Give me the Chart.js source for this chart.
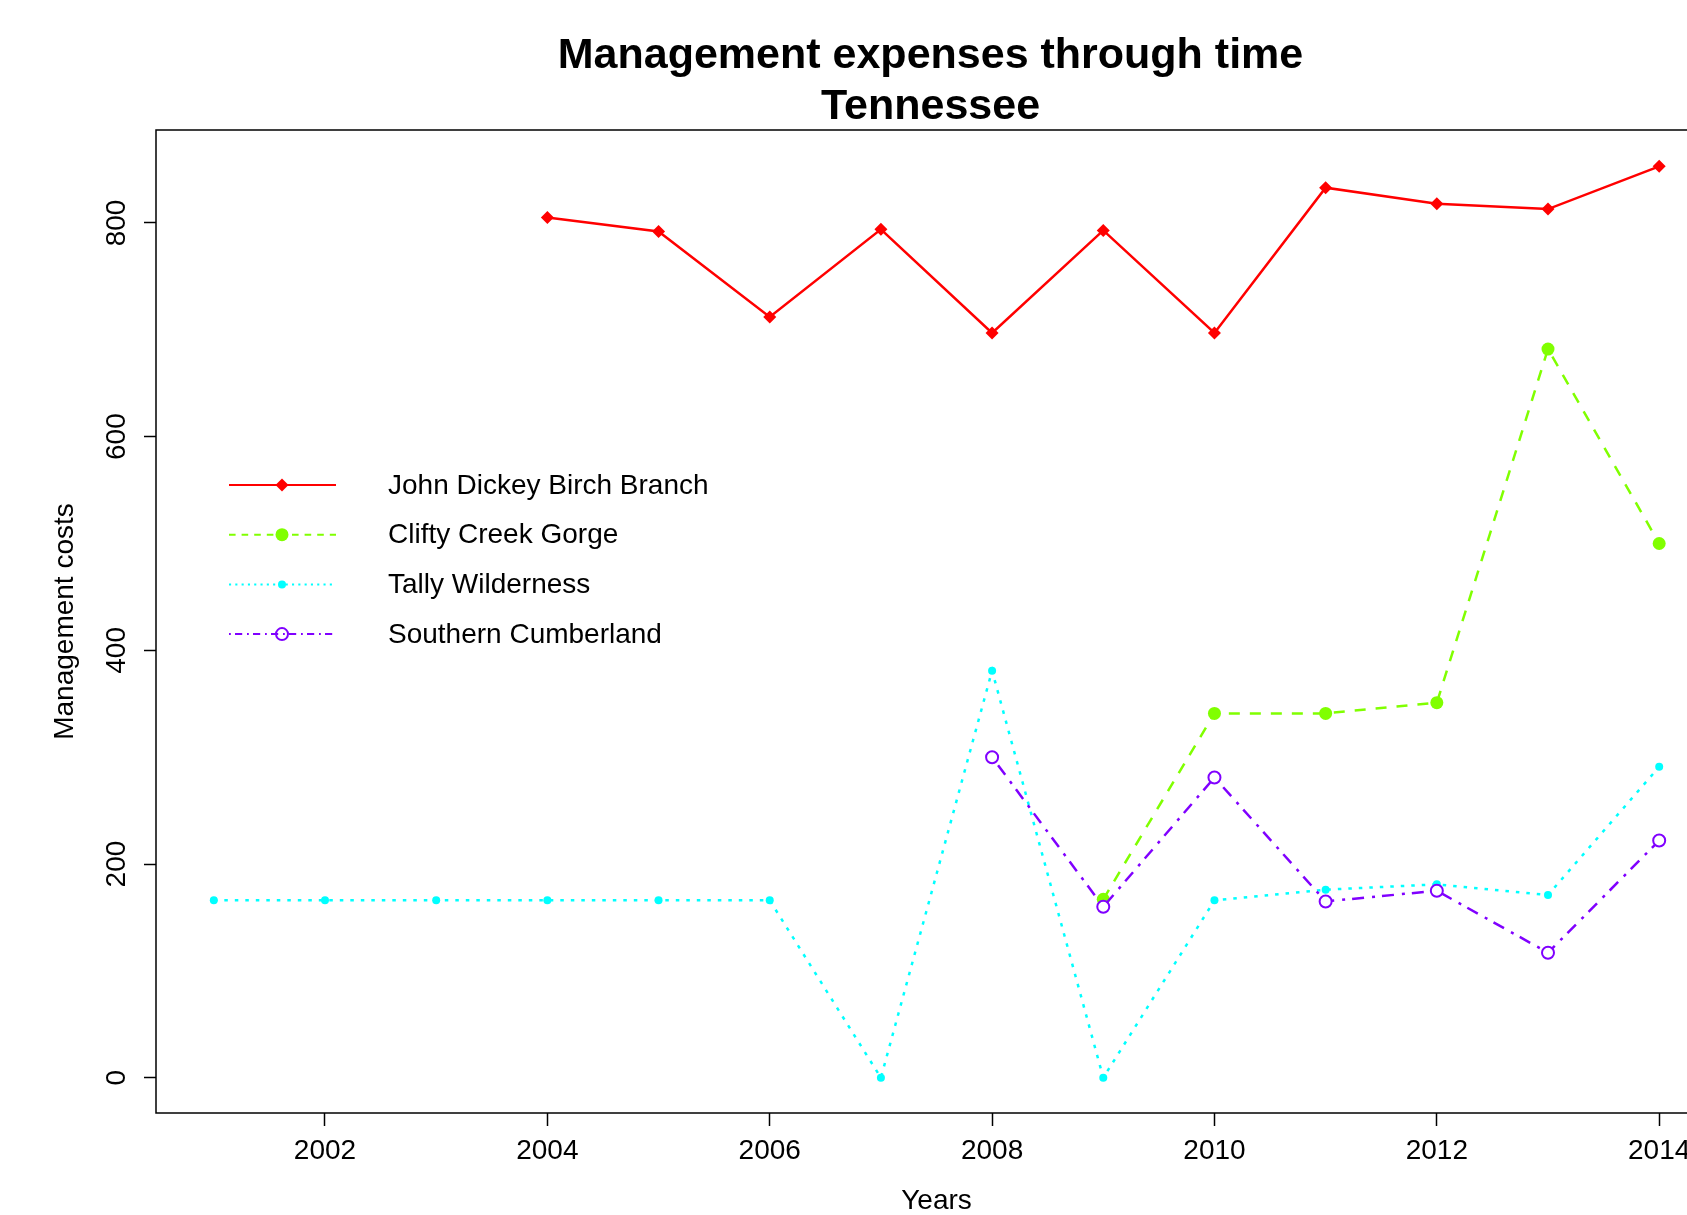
<!DOCTYPE html>
<html>
<head>
<meta charset="utf-8">
<script src="https://cdn.jsdelivr.net/npm/chart.js@4"></script>
<style>
  html, body { margin: 0; padding: 0; background: #fff; overflow: hidden; }
  #wrap { width: 1687px; height: 1215px; overflow: hidden; }
</style>
</head>
<body>
<div id="wrap"><canvas id="costChart" width="1872" height="1215"></canvas></div>
<script>
// data
const years = [2001, 2002, 2003, 2004, 2005, 2006, 2007, 2008, 2009, 2010, 2011, 2012, 2013, 2014];
const johnDickey = [null, null, null, 805, 792, 712, 794, 697, 793, 697, 833, 818, 813, 853];
const cliftyCreek = [null, null, null, null, null, null, null, null, 167, 341, 341, 351, 682, 500];
const tallyWilderness = [166, 166, 166, 166, 166, 166, 0, 381, 0, 166, 176, 181, 171, 291];
const southernCumberland = [null, null, null, null, null, null, null, 300, 160, 281, 165, 175, 117, 222];

const seriesNames = ['John Dickey Birch Branch', 'Clifty Creek Gorge', 'Tally Wilderness', 'Southern Cumberland'];
const titleLines = ['Management expenses through time', 'Tennessee'];
const xTickYears = [2002, 2004, 2006, 2008, 2010, 2012, 2014];
const yTickValues = [0, 200, 400, 600, 800];

const FONT = '"Liberation Sans", Arial, sans-serif';

function toPoints(arr) {
    return years.map((x, i) => ({ x, y: arr[i] })).filter(p => p.y !== null);
}

const datasets = [
    {
        label: seriesNames[0], data: toPoints(johnDickey), order: 4,
        borderColor: '#FF0000', backgroundColor: '#FF0000', borderWidth: 2.5,
        pointStyle: 'rectRot', pointRadius: 6.5, pointBackgroundColor: '#FF0000', pointBorderWidth: 0
    },
    {
        label: seriesNames[1], data: toPoints(cliftyCreek), order: 3,
        borderColor: '#80FF00', backgroundColor: '#80FF00', borderWidth: 2.5, borderDash: [11, 10],
        pointStyle: 'circle', pointRadius: 6.5, pointBackgroundColor: '#80FF00', pointBorderWidth: 0
    },
    {
        label: seriesNames[2], data: toPoints(tallyWilderness), order: 2,
        borderColor: '#00FFFF', backgroundColor: '#00FFFF', borderWidth: 2.5, borderDash: [3.5, 7],
        pointStyle: 'circle', pointRadius: 4, pointBackgroundColor: '#00FFFF', pointBorderWidth: 0
    },
    {
        label: seriesNames[3], data: toPoints(southernCumberland), order: 1,
        borderColor: '#8000FF', backgroundColor: '#8000FF', borderWidth: 2.5, borderDash: [3, 7, 12, 8],
        pointStyle: 'circle', pointRadius: 6, pointBackgroundColor: '#ffffff', pointBorderWidth: 2
    }
];

// title over the plot, box, rotated y labels and the R-style legend
const extrasPlugin = {
    id: 'extras',
    afterDraw(chart) {
        const ctx = chart.ctx;
        const area = chart.chartArea;
        const yScale = chart.scales.y;

        ctx.save();
        ctx.fillStyle = '#000';
        ctx.font = 'bold 43px ' + FONT;
        ctx.textAlign = 'center';
        ctx.textBaseline = 'middle';
        const cx = (area.left + area.right) / 2 - 6;
        ctx.fillText(titleLines[0], cx, 56);
        ctx.fillText(titleLines[1], cx, 107);

        ctx.strokeStyle = '#000';
        ctx.lineWidth = 1.5;
        ctx.strokeRect(area.left, area.top, area.right - area.left, area.bottom - area.top);

        ctx.font = '28px ' + FONT;
        yTickValues.forEach(v => {
            const y = yScale.getPixelForValue(v);
            ctx.save();
            ctx.translate(117, y);
            ctx.rotate(-Math.PI / 2);
            ctx.fillText(String(v), 0, 0);
            ctx.restore();
        });

        const legendTop = 485;
        const rowGap = 49.7;
        chart.data.datasets.forEach((ds, i) => {
            const y = legendTop + i * rowGap;
            ctx.save();
            ctx.strokeStyle = ds.borderColor;
            ctx.lineWidth = 2;
            ctx.setLineDash(ds.borderDash ? ds.borderDash.map(d => d * 0.6) : []);
            ctx.beginPath();
            ctx.moveTo(229, y);
            ctx.lineTo(336, y);
            ctx.stroke();
            ctx.setLineDash([]);
            ctx.fillStyle = ds.pointBackgroundColor === '#ffffff' ? 'rgba(0,0,0,0)' : ds.pointBackgroundColor;
            ctx.strokeStyle = ds.borderColor;
            ctx.lineWidth = ds.pointBorderWidth;
            Chart.helpers.drawPoint(ctx, {
                pointStyle: ds.pointStyle,
                radius: ds.pointRadius,
                borderWidth: ds.pointBorderWidth,
                rotation: 0
            }, 282, y);
            ctx.restore();

            ctx.fillStyle = '#000';
            ctx.font = '28px ' + FONT;
            ctx.textAlign = 'left';
            ctx.textBaseline = 'middle';
            ctx.fillText(ds.label, 388, y + 1);
        });
        ctx.restore();
    }
};

const chart = new Chart(document.getElementById('costChart').getContext('2d'), {
    type: 'line',
    data: { datasets },
    options: {
        responsive: false,
        animation: false,
        layout: { padding: { top: 130, left: 0, right: 155, bottom: 0 } },
        elements: { line: { tension: 0 } },
        plugins: {
            legend: { display: false },
            tooltip: { enabled: false },
            title: { display: false }
        },
        scales: {
            x: {
                type: 'linear',
                min: 2000.48,
                max: 2014.52,
                afterBuildTicks: scale => { scale.ticks = xTickYears.map(v => ({ value: v })); },
                afterFit: scale => { scale.height = 102; },
                border: { display: false },
                grid: { drawOnChartArea: false, drawTicks: true, tickLength: 13, tickColor: '#000', tickWidth: 1.5 },
                ticks: {
                    color: '#000',
                    font: { family: FONT, size: 28 },
                    padding: 8,
                    maxRotation: 0,
                    callback: v => String(v)
                },
                title: {
                    display: true,
                    text: 'Years',
                    color: '#000',
                    font: { family: FONT, size: 28, lineHeight: 1 },
                    padding: 0
                }
            },
            y: {
                type: 'linear',
                min: -33,
                max: 887,
                afterBuildTicks: scale => { scale.ticks = yTickValues.map(v => ({ value: v })); },
                afterFit: scale => { scale.width = 156; },
                border: { display: false },
                grid: { drawOnChartArea: false, drawTicks: true, tickLength: 12, tickColor: '#000', tickWidth: 1.5 },
                ticks: { display: false },
                title: {
                    display: true,
                    text: 'Management costs',
                    color: '#000',
                    font: { family: FONT, size: 28, lineHeight: 1 },
                    padding: { top: 51, bottom: 0 }
                }
            }
        }
    },
    plugins: [extrasPlugin]
});
</script>
</body>
</html>
